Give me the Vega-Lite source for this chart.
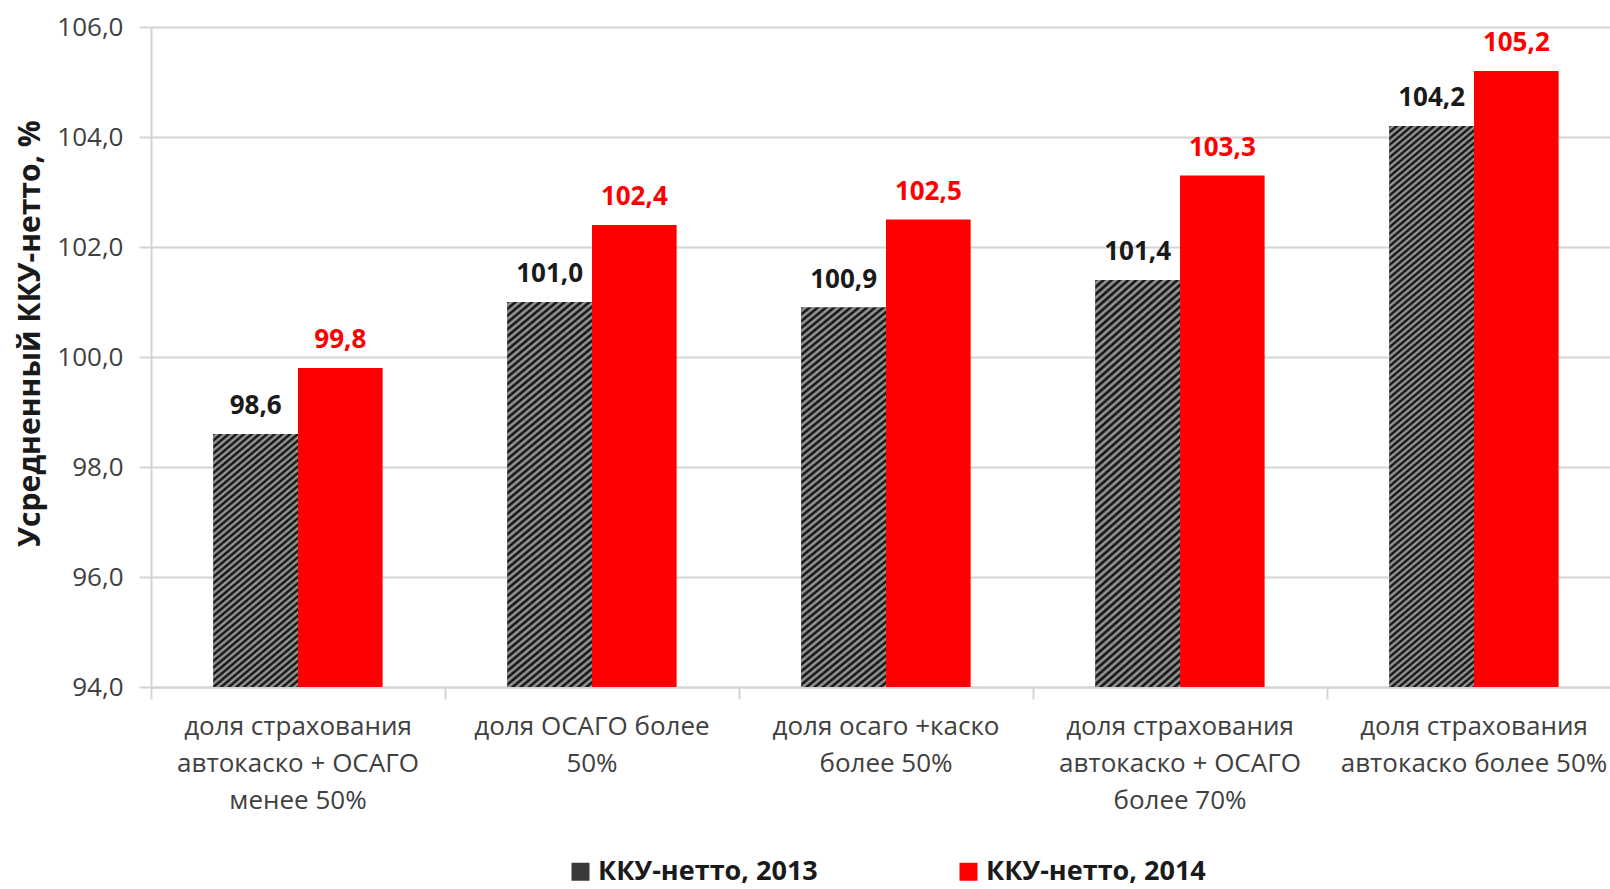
{
"$schema": "https://vega.github.io/schema/vega-lite/v6.json",
"width": 1470, "height": 660,
"autosize": {"type": "none"},
"padding": {"left": 151, "top": 27, "right": -11, "bottom": 202},
"config": {
  "font": "Open Sans",
  "view": {"stroke": null},
  "locale": {"number": {"decimal": ",", "thousands": " ", "grouping": [3], "currency": ["", ""]}}
},
"data": {"values": [
{"category":"доля страхования|автокаско + ОСАГО|менее 50%","series":"ККУ-нетто, 2013","value":98.6},
{"category":"доля страхования|автокаско + ОСАГО|менее 50%","series":"ККУ-нетто, 2014","value":99.8},
{"category":"доля ОСАГО более|50%","series":"ККУ-нетто, 2013","value":101.0},
{"category":"доля ОСАГО более|50%","series":"ККУ-нетто, 2014","value":102.4},
{"category":"доля осаго +каско|более 50%","series":"ККУ-нетто, 2013","value":100.9},
{"category":"доля осаго +каско|более 50%","series":"ККУ-нетто, 2014","value":102.5},
{"category":"доля страхования|автокаско + ОСАГО|более 70%","series":"ККУ-нетто, 2013","value":101.4},
{"category":"доля страхования|автокаско + ОСАГО|более 70%","series":"ККУ-нетто, 2014","value":103.3},
{"category":"доля страхования|автокаско более 50%","series":"ККУ-нетто, 2013","value":104.2},
{"category":"доля страхования|автокаско более 50%","series":"ККУ-нетто, 2014","value":105.2}
]},
"encoding": {
  "xOffset": {"field": "series", "type": "nominal", "scale": {"paddingInner": 0, "paddingOuter": 0.737}},
  "y": {"field": "value", "type": "quantitative",
    "scale": {"domain": [94, 106], "zero": false, "nice": false},
    "axis": {"title": "Усредненный ККУ-нетто, %", "titleFont": "Open Sans", "titleFontSize": 30, "titleFontWeight": "bold", "titleColor": "#1a1a1a",
      "titleAngle": 270, "titleX": -121, "titleY": 306, "titleAlign": "center", "titleBaseline": "middle",
      "values": [94, 96, 98, 100, 102, 104, 106], "format": ".1f",
      "labelFont": "Open Sans", "labelFontSize": 26, "labelColor": "#404040", "labelPadding": 16,
      "tickSize": 12, "tickColor": "#d4d4d4", "tickWidth": 2,
      "domainColor": "#d4d4d4", "domainWidth": 2,
      "grid": true, "gridColor": "#d4d4d4", "gridWidth": 2}}
},
"layer": [
  {
    "mark": {"type": "bar"},
    "encoding": {
      "x": {"field": "category", "type": "nominal", "sort": null,
        "scale": {"domain": ["доля страхования|автокаско + ОСАГО|менее 50%","доля ОСАГО более|50%","доля осаго +каско|более 50%","доля страхования|автокаско + ОСАГО|более 70%","доля страхования|автокаско более 50%"], "paddingInner": 0, "paddingOuter": 0},
        "axis": {"orient": "bottom", "title": null, "ticks": false, "tickSize": 0, "domain": true, "domainColor": "#d4d4d4", "domainWidth": 2,
          "labelExpr": "split(datum.label, '|')", "labelFont": "Open Sans", "labelFontSize": 26, "labelColor": "#404040",
          "labelLineHeight": 37, "labelPadding": 26, "labelBaseline": "top", "labelAngle": 0, "labelLimit": 500, "labelOverlap": false, "labelFlush": false, "grid": false}},
      "y2": {"datum": 94},
      "color": {"field": "series", "type": "nominal",
        "scale": {"domain": ["ККУ-нетто, 2013", "ККУ-нетто, 2014"], "range": ["#3a3a3a", "#ff0000"]},
        "legend": {"title": null, "orient": "none", "legendX": 416, "legendY": 831, "direction": "horizontal",
          "labelFont": "Open Sans", "labelFontSize": 27, "labelFontWeight": "bold", "labelColor": "#1a1a1a", "labelLimit": 600,
          "symbolType": "square", "symbolSize": 324, "symbolStrokeWidth": 0, "labelOffset": 4, "columnPadding": 137}
      }
    }
  },
  {
    "transform": [{"filter": "datum.series === 'ККУ-нетто, 2013'"}],
    "mark": {"type": "bar"},
    "encoding": {
      "x": {"field": "category", "type": "nominal", "sort": null,
        "scale": {"domain": ["доля страхования|автокаско + ОСАГО|менее 50%","доля ОСАГО более|50%","доля осаго +каско|более 50%","доля страхования|автокаско + ОСАГО|более 70%","доля страхования|автокаско более 50%"], "paddingInner": 0, "paddingOuter": 0},
        "axis": null},
      "y2": {"datum": 94},
      "fill": {
        "condition": [
          {"test": "datum.value < 100", "value": {"gradient": "linear", "x1": 0, "y1": 0, "x2": 0.3352, "y2": 1.1876, "stops": [
{"offset":0,"color":"#000"},{"offset":0.01,"color":"#aaa"},{"offset":0.02,"color":"#000"},{"offset":0.03,"color":"#aaa"},{"offset":0.04,"color":"#000"},{"offset":0.05,"color":"#aaa"},{"offset":0.06,"color":"#000"},{"offset":0.07,"color":"#aaa"},{"offset":0.08,"color":"#000"},{"offset":0.09,"color":"#aaa"},
{"offset":0.1,"color":"#000"},{"offset":0.11,"color":"#aaa"},{"offset":0.12,"color":"#000"},{"offset":0.13,"color":"#aaa"},{"offset":0.14,"color":"#000"},{"offset":0.15,"color":"#aaa"},{"offset":0.16,"color":"#000"},{"offset":0.17,"color":"#aaa"},{"offset":0.18,"color":"#000"},{"offset":0.19,"color":"#aaa"},
{"offset":0.2,"color":"#000"},{"offset":0.21,"color":"#aaa"},{"offset":0.22,"color":"#000"},{"offset":0.23,"color":"#aaa"},{"offset":0.24,"color":"#000"},{"offset":0.25,"color":"#aaa"},{"offset":0.26,"color":"#000"},{"offset":0.27,"color":"#aaa"},{"offset":0.28,"color":"#000"},{"offset":0.29,"color":"#aaa"},
{"offset":0.3,"color":"#000"},{"offset":0.31,"color":"#aaa"},{"offset":0.32,"color":"#000"},{"offset":0.33,"color":"#aaa"},{"offset":0.34,"color":"#000"},{"offset":0.35,"color":"#aaa"},{"offset":0.36,"color":"#000"},{"offset":0.37,"color":"#aaa"},{"offset":0.38,"color":"#000"},{"offset":0.39,"color":"#aaa"},
{"offset":0.4,"color":"#000"},{"offset":0.41,"color":"#aaa"},{"offset":0.42,"color":"#000"},{"offset":0.43,"color":"#aaa"},{"offset":0.44,"color":"#000"},{"offset":0.45,"color":"#aaa"},{"offset":0.46,"color":"#000"},{"offset":0.47,"color":"#aaa"},{"offset":0.48,"color":"#000"},{"offset":0.49,"color":"#aaa"},
{"offset":0.5,"color":"#000"},{"offset":0.51,"color":"#aaa"},{"offset":0.52,"color":"#000"},{"offset":0.53,"color":"#aaa"},{"offset":0.54,"color":"#000"},{"offset":0.55,"color":"#aaa"},{"offset":0.56,"color":"#000"},{"offset":0.57,"color":"#aaa"},{"offset":0.58,"color":"#000"},{"offset":0.59,"color":"#aaa"},
{"offset":0.6,"color":"#000"},{"offset":0.61,"color":"#aaa"},{"offset":0.62,"color":"#000"},{"offset":0.63,"color":"#aaa"},{"offset":0.64,"color":"#000"},{"offset":0.65,"color":"#aaa"},{"offset":0.66,"color":"#000"},{"offset":0.67,"color":"#aaa"},{"offset":0.68,"color":"#000"},{"offset":0.69,"color":"#aaa"},
{"offset":0.7,"color":"#000"},{"offset":0.71,"color":"#aaa"},{"offset":0.72,"color":"#000"},{"offset":0.73,"color":"#aaa"},{"offset":0.74,"color":"#000"},{"offset":0.75,"color":"#aaa"},{"offset":0.76,"color":"#000"},{"offset":0.77,"color":"#aaa"},{"offset":0.78,"color":"#000"},{"offset":0.79,"color":"#aaa"},
{"offset":0.8,"color":"#000"},{"offset":0.81,"color":"#aaa"},{"offset":0.82,"color":"#000"},{"offset":0.83,"color":"#aaa"},{"offset":0.84,"color":"#000"},{"offset":0.85,"color":"#aaa"},{"offset":0.86,"color":"#000"},{"offset":0.87,"color":"#aaa"},{"offset":0.88,"color":"#000"},{"offset":0.89,"color":"#aaa"},
{"offset":0.9,"color":"#000"},{"offset":0.91,"color":"#aaa"},{"offset":0.92,"color":"#000"},{"offset":0.93,"color":"#aaa"},{"offset":0.94,"color":"#000"},{"offset":0.95,"color":"#aaa"},{"offset":0.96,"color":"#000"},{"offset":0.97,"color":"#aaa"},{"offset":0.98,"color":"#000"},{"offset":0.99,"color":"#aaa"},
{"offset":1,"color":"#000"}]}},
          {"test": "datum.value > 104", "value": {"gradient": "linear", "x1": 0, "y1": 0, "x2": 0.1412, "y2": 1.1093, "stops": [
{"offset":0,"color":"#000"},{"offset":0.005,"color":"#aaa"},{"offset":0.01,"color":"#000"},{"offset":0.015,"color":"#aaa"},{"offset":0.02,"color":"#000"},{"offset":0.025,"color":"#aaa"},{"offset":0.03,"color":"#000"},{"offset":0.035,"color":"#aaa"},{"offset":0.04,"color":"#000"},{"offset":0.045,"color":"#aaa"},
{"offset":0.05,"color":"#000"},{"offset":0.055,"color":"#aaa"},{"offset":0.06,"color":"#000"},{"offset":0.065,"color":"#aaa"},{"offset":0.07,"color":"#000"},{"offset":0.075,"color":"#aaa"},{"offset":0.08,"color":"#000"},{"offset":0.085,"color":"#aaa"},{"offset":0.09,"color":"#000"},{"offset":0.095,"color":"#aaa"},
{"offset":0.1,"color":"#000"},{"offset":0.105,"color":"#aaa"},{"offset":0.11,"color":"#000"},{"offset":0.115,"color":"#aaa"},{"offset":0.12,"color":"#000"},{"offset":0.125,"color":"#aaa"},{"offset":0.13,"color":"#000"},{"offset":0.135,"color":"#aaa"},{"offset":0.14,"color":"#000"},{"offset":0.145,"color":"#aaa"},
{"offset":0.15,"color":"#000"},{"offset":0.155,"color":"#aaa"},{"offset":0.16,"color":"#000"},{"offset":0.165,"color":"#aaa"},{"offset":0.17,"color":"#000"},{"offset":0.175,"color":"#aaa"},{"offset":0.18,"color":"#000"},{"offset":0.185,"color":"#aaa"},{"offset":0.19,"color":"#000"},{"offset":0.195,"color":"#aaa"},
{"offset":0.2,"color":"#000"},{"offset":0.205,"color":"#aaa"},{"offset":0.21,"color":"#000"},{"offset":0.215,"color":"#aaa"},{"offset":0.22,"color":"#000"},{"offset":0.225,"color":"#aaa"},{"offset":0.23,"color":"#000"},{"offset":0.235,"color":"#aaa"},{"offset":0.24,"color":"#000"},{"offset":0.245,"color":"#aaa"},
{"offset":0.25,"color":"#000"},{"offset":0.255,"color":"#aaa"},{"offset":0.26,"color":"#000"},{"offset":0.265,"color":"#aaa"},{"offset":0.27,"color":"#000"},{"offset":0.275,"color":"#aaa"},{"offset":0.28,"color":"#000"},{"offset":0.285,"color":"#aaa"},{"offset":0.29,"color":"#000"},{"offset":0.295,"color":"#aaa"},
{"offset":0.3,"color":"#000"},{"offset":0.305,"color":"#aaa"},{"offset":0.31,"color":"#000"},{"offset":0.315,"color":"#aaa"},{"offset":0.32,"color":"#000"},{"offset":0.325,"color":"#aaa"},{"offset":0.33,"color":"#000"},{"offset":0.335,"color":"#aaa"},{"offset":0.34,"color":"#000"},{"offset":0.345,"color":"#aaa"},
{"offset":0.35,"color":"#000"},{"offset":0.355,"color":"#aaa"},{"offset":0.36,"color":"#000"},{"offset":0.365,"color":"#aaa"},{"offset":0.37,"color":"#000"},{"offset":0.375,"color":"#aaa"},{"offset":0.38,"color":"#000"},{"offset":0.385,"color":"#aaa"},{"offset":0.39,"color":"#000"},{"offset":0.395,"color":"#aaa"},
{"offset":0.4,"color":"#000"},{"offset":0.405,"color":"#aaa"},{"offset":0.41,"color":"#000"},{"offset":0.415,"color":"#aaa"},{"offset":0.42,"color":"#000"},{"offset":0.425,"color":"#aaa"},{"offset":0.43,"color":"#000"},{"offset":0.435,"color":"#aaa"},{"offset":0.44,"color":"#000"},{"offset":0.445,"color":"#aaa"},
{"offset":0.45,"color":"#000"},{"offset":0.455,"color":"#aaa"},{"offset":0.46,"color":"#000"},{"offset":0.465,"color":"#aaa"},{"offset":0.47,"color":"#000"},{"offset":0.475,"color":"#aaa"},{"offset":0.48,"color":"#000"},{"offset":0.485,"color":"#aaa"},{"offset":0.49,"color":"#000"},{"offset":0.495,"color":"#aaa"},
{"offset":0.5,"color":"#000"},{"offset":0.505,"color":"#aaa"},{"offset":0.51,"color":"#000"},{"offset":0.515,"color":"#aaa"},{"offset":0.52,"color":"#000"},{"offset":0.525,"color":"#aaa"},{"offset":0.53,"color":"#000"},{"offset":0.535,"color":"#aaa"},{"offset":0.54,"color":"#000"},{"offset":0.545,"color":"#aaa"},
{"offset":0.55,"color":"#000"},{"offset":0.555,"color":"#aaa"},{"offset":0.56,"color":"#000"},{"offset":0.565,"color":"#aaa"},{"offset":0.57,"color":"#000"},{"offset":0.575,"color":"#aaa"},{"offset":0.58,"color":"#000"},{"offset":0.585,"color":"#aaa"},{"offset":0.59,"color":"#000"},{"offset":0.595,"color":"#aaa"},
{"offset":0.6,"color":"#000"},{"offset":0.605,"color":"#aaa"},{"offset":0.61,"color":"#000"},{"offset":0.615,"color":"#aaa"},{"offset":0.62,"color":"#000"},{"offset":0.625,"color":"#aaa"},{"offset":0.63,"color":"#000"},{"offset":0.635,"color":"#aaa"},{"offset":0.64,"color":"#000"},{"offset":0.645,"color":"#aaa"},
{"offset":0.65,"color":"#000"},{"offset":0.655,"color":"#aaa"},{"offset":0.66,"color":"#000"},{"offset":0.665,"color":"#aaa"},{"offset":0.67,"color":"#000"},{"offset":0.675,"color":"#aaa"},{"offset":0.68,"color":"#000"},{"offset":0.685,"color":"#aaa"},{"offset":0.69,"color":"#000"},{"offset":0.695,"color":"#aaa"},
{"offset":0.7,"color":"#000"},{"offset":0.705,"color":"#aaa"},{"offset":0.71,"color":"#000"},{"offset":0.715,"color":"#aaa"},{"offset":0.72,"color":"#000"},{"offset":0.725,"color":"#aaa"},{"offset":0.73,"color":"#000"},{"offset":0.735,"color":"#aaa"},{"offset":0.74,"color":"#000"},{"offset":0.745,"color":"#aaa"},
{"offset":0.75,"color":"#000"},{"offset":0.755,"color":"#aaa"},{"offset":0.76,"color":"#000"},{"offset":0.765,"color":"#aaa"},{"offset":0.77,"color":"#000"},{"offset":0.775,"color":"#aaa"},{"offset":0.78,"color":"#000"},{"offset":0.785,"color":"#aaa"},{"offset":0.79,"color":"#000"},{"offset":0.795,"color":"#aaa"},
{"offset":0.8,"color":"#000"},{"offset":0.805,"color":"#aaa"},{"offset":0.81,"color":"#000"},{"offset":0.815,"color":"#aaa"},{"offset":0.82,"color":"#000"},{"offset":0.825,"color":"#aaa"},{"offset":0.83,"color":"#000"},{"offset":0.835,"color":"#aaa"},{"offset":0.84,"color":"#000"},{"offset":0.845,"color":"#aaa"},
{"offset":0.85,"color":"#000"},{"offset":0.855,"color":"#aaa"},{"offset":0.86,"color":"#000"},{"offset":0.865,"color":"#aaa"},{"offset":0.87,"color":"#000"},{"offset":0.875,"color":"#aaa"},{"offset":0.88,"color":"#000"},{"offset":0.885,"color":"#aaa"},{"offset":0.89,"color":"#000"},{"offset":0.895,"color":"#aaa"},
{"offset":0.9,"color":"#000"},{"offset":0.905,"color":"#aaa"},{"offset":0.91,"color":"#000"},{"offset":0.915,"color":"#aaa"},{"offset":0.92,"color":"#000"},{"offset":0.925,"color":"#aaa"},{"offset":0.93,"color":"#000"},{"offset":0.935,"color":"#aaa"},{"offset":0.94,"color":"#000"},{"offset":0.945,"color":"#aaa"},
{"offset":0.95,"color":"#000"},{"offset":0.955,"color":"#aaa"},{"offset":0.96,"color":"#000"},{"offset":0.965,"color":"#aaa"},{"offset":0.97,"color":"#000"},{"offset":0.975,"color":"#aaa"},{"offset":0.98,"color":"#000"},{"offset":0.985,"color":"#aaa"},{"offset":0.99,"color":"#000"},{"offset":0.995,"color":"#aaa"},
{"offset":1,"color":"#000"}]}}
        ],
        "value": {"gradient": "linear", "x1": 0, "y1": 0, "x2": 0.2093, "y2": 1.1446, "stops": [
{"offset":0,"color":"#000"},{"offset":0.0075,"color":"#aaa"},{"offset":0.015,"color":"#000"},{"offset":0.0225,"color":"#aaa"},{"offset":0.03,"color":"#000"},{"offset":0.0375,"color":"#aaa"},{"offset":0.045,"color":"#000"},{"offset":0.0525,"color":"#aaa"},{"offset":0.06,"color":"#000"},{"offset":0.0675,"color":"#aaa"},
{"offset":0.075,"color":"#000"},{"offset":0.0825,"color":"#aaa"},{"offset":0.09,"color":"#000"},{"offset":0.0975,"color":"#aaa"},{"offset":0.105,"color":"#000"},{"offset":0.1125,"color":"#aaa"},{"offset":0.12,"color":"#000"},{"offset":0.1275,"color":"#aaa"},{"offset":0.135,"color":"#000"},{"offset":0.1425,"color":"#aaa"},
{"offset":0.15,"color":"#000"},{"offset":0.1575,"color":"#aaa"},{"offset":0.165,"color":"#000"},{"offset":0.1725,"color":"#aaa"},{"offset":0.18,"color":"#000"},{"offset":0.1875,"color":"#aaa"},{"offset":0.195,"color":"#000"},{"offset":0.2025,"color":"#aaa"},{"offset":0.21,"color":"#000"},{"offset":0.2175,"color":"#aaa"},
{"offset":0.225,"color":"#000"},{"offset":0.2325,"color":"#aaa"},{"offset":0.24,"color":"#000"},{"offset":0.2475,"color":"#aaa"},{"offset":0.255,"color":"#000"},{"offset":0.2625,"color":"#aaa"},{"offset":0.27,"color":"#000"},{"offset":0.2775,"color":"#aaa"},{"offset":0.285,"color":"#000"},{"offset":0.2925,"color":"#aaa"},
{"offset":0.3,"color":"#000"},{"offset":0.3075,"color":"#aaa"},{"offset":0.315,"color":"#000"},{"offset":0.3225,"color":"#aaa"},{"offset":0.33,"color":"#000"},{"offset":0.3375,"color":"#aaa"},{"offset":0.345,"color":"#000"},{"offset":0.3525,"color":"#aaa"},{"offset":0.36,"color":"#000"},{"offset":0.3675,"color":"#aaa"},
{"offset":0.375,"color":"#000"},{"offset":0.3825,"color":"#aaa"},{"offset":0.39,"color":"#000"},{"offset":0.3975,"color":"#aaa"},{"offset":0.405,"color":"#000"},{"offset":0.4125,"color":"#aaa"},{"offset":0.42,"color":"#000"},{"offset":0.4275,"color":"#aaa"},{"offset":0.435,"color":"#000"},{"offset":0.4425,"color":"#aaa"},
{"offset":0.45,"color":"#000"},{"offset":0.4575,"color":"#aaa"},{"offset":0.465,"color":"#000"},{"offset":0.4725,"color":"#aaa"},{"offset":0.48,"color":"#000"},{"offset":0.4875,"color":"#aaa"},{"offset":0.495,"color":"#000"},{"offset":0.5025,"color":"#aaa"},{"offset":0.51,"color":"#000"},{"offset":0.5175,"color":"#aaa"},
{"offset":0.525,"color":"#000"},{"offset":0.5325,"color":"#aaa"},{"offset":0.54,"color":"#000"},{"offset":0.5475,"color":"#aaa"},{"offset":0.555,"color":"#000"},{"offset":0.5625,"color":"#aaa"},{"offset":0.57,"color":"#000"},{"offset":0.5775,"color":"#aaa"},{"offset":0.585,"color":"#000"},{"offset":0.5925,"color":"#aaa"},
{"offset":0.6,"color":"#000"},{"offset":0.6075,"color":"#aaa"},{"offset":0.615,"color":"#000"},{"offset":0.6225,"color":"#aaa"},{"offset":0.63,"color":"#000"},{"offset":0.6375,"color":"#aaa"},{"offset":0.645,"color":"#000"},{"offset":0.6525,"color":"#aaa"},{"offset":0.66,"color":"#000"},{"offset":0.6675,"color":"#aaa"},
{"offset":0.675,"color":"#000"},{"offset":0.6825,"color":"#aaa"},{"offset":0.69,"color":"#000"},{"offset":0.6975,"color":"#aaa"},{"offset":0.705,"color":"#000"},{"offset":0.7125,"color":"#aaa"},{"offset":0.72,"color":"#000"},{"offset":0.7275,"color":"#aaa"},{"offset":0.735,"color":"#000"},{"offset":0.7425,"color":"#aaa"},
{"offset":0.75,"color":"#000"},{"offset":0.7575,"color":"#aaa"},{"offset":0.765,"color":"#000"},{"offset":0.7725,"color":"#aaa"},{"offset":0.78,"color":"#000"},{"offset":0.7875,"color":"#aaa"},{"offset":0.795,"color":"#000"},{"offset":0.8025,"color":"#aaa"},{"offset":0.81,"color":"#000"},{"offset":0.8175,"color":"#aaa"},
{"offset":0.825,"color":"#000"},{"offset":0.8325,"color":"#aaa"},{"offset":0.84,"color":"#000"},{"offset":0.8475,"color":"#aaa"},{"offset":0.855,"color":"#000"},{"offset":0.8625,"color":"#aaa"},{"offset":0.87,"color":"#000"},{"offset":0.8775,"color":"#aaa"},{"offset":0.885,"color":"#000"},{"offset":0.8925,"color":"#aaa"},
{"offset":0.9,"color":"#000"},{"offset":0.9075,"color":"#aaa"},{"offset":0.915,"color":"#000"},{"offset":0.9225,"color":"#aaa"},{"offset":0.93,"color":"#000"},{"offset":0.9375,"color":"#aaa"},{"offset":0.945,"color":"#000"},{"offset":0.9525,"color":"#aaa"},{"offset":0.96,"color":"#000"},{"offset":0.9675,"color":"#aaa"},
{"offset":0.975,"color":"#000"},{"offset":0.9825,"color":"#aaa"},{"offset":0.99,"color":"#000"},{"offset":0.9975,"color":"#aaa"}]}
      }
    }
  },
  {
    "mark": {"type": "text", "font": "Open Sans", "fontSize": 26, "fontWeight": "bold", "baseline": "alphabetic", "align": "center", "dy": -20},
    "encoding": {
      "x": {"field": "category", "type": "nominal", "sort": null,
        "scale": {"domain": ["доля страхования|автокаско + ОСАГО|менее 50%","доля ОСАГО более|50%","доля осаго +каско|более 50%","доля страхования|автокаско + ОСАГО|более 70%","доля страхования|автокаско более 50%"], "paddingInner": 0, "paddingOuter": 0},
        "axis": {"orient": "bottom", "title": null, "labels": false, "domain": false, "ticks": true, "tickSize": 12, "tickColor": "#d4d4d4", "tickWidth": 2, "bandPosition": 0, "grid": false}},
      "text": {"field": "value", "type": "quantitative", "format": ".1f"},
      "color": {"condition": {"test": "datum.series === 'ККУ-нетто, 2013'", "value": "#1a1a1a"}, "value": "#ff0000"}
    }
  }
],
"resolve": {"axis": {"x": "independent"}}
}
